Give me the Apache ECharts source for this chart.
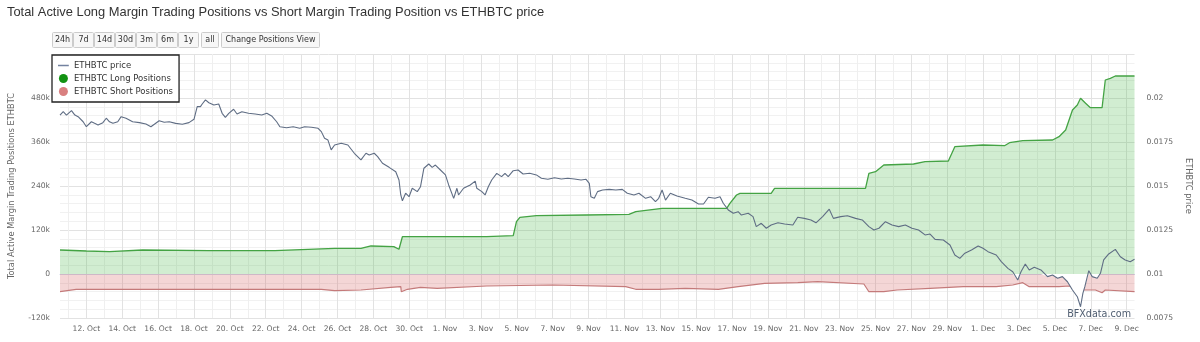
<!DOCTYPE html>
<html><head><meta charset="utf-8">
<script src="https://cdn.jsdelivr.net/npm/echarts@6/dist/echarts.min.js"></script>
<style>html,body{margin:0;padding:0;background:#fff}#c{width:1200px;height:342px}</style>
</head><body><div id="c"></div>
<script>
// x values are days counted from 12 Oct 2016 00:00 UTC
const startDateUTC = Date.UTC(2016, 9, 12);
const monthNames = ['Jan','Feb','Mar','Apr','May','Jun','Jul','Aug','Sep','Oct','Nov','Dec'];
const xMinDay = -1.47;
const xMaxDay = 58.44;
const xLabelDays = [0,2,4,6,8,10,12,14,16,18,20,22,24,26,28,30,32,34,36,38,40,42,44,46,48,50,52,54,56,58];
const xMinorDays = [-1,1,3,5,7,9,11,13,15,17,19,21,23,25,27,29,31,33,35,37,39,41,43,45,47,49,51,53,55,57];
const priceThreshold = 0.01;

const leftAxisTitle = 'Total Active Margin Trading Positions ETHBTC';
const rightAxisTitle = 'ETHBTC price';
const chartTitle = 'Total Active Long Margin Trading Positions vs Short Margin Trading Position vs ETHBTC price';
const rangeButtons = ['24h','7d','14d','30d','3m','6m','1y','all','Change Positions View'];
const seriesNames = ['ETHBTC price','ETHBTC Long Positions','ETHBTC Short Positions'];

const priceData = [
[-1.47,0.01903],[-1.29,0.01922],[-1.11,0.01903],[-0.83,0.01928],[-0.64,0.01903],[-0.46,0.01894],[-0.18,0.01865],
[0,0.01837],[0.28,0.01865],[0.46,0.01856],[0.65,0.01847],[0.92,0.0186],[1.11,0.01885],[1.29,0.01865],[1.48,0.01856],
[1.75,0.01865],[1.94,0.01894],[2.21,0.01885],[2.58,0.01865],[2.96,0.0186],[3.32,0.01852],[3.6,0.01837],[3.79,0.01851],
[4.06,0.01871],[4.34,0.01862],[4.62,0.01865],[4.98,0.01856],[5.35,0.01851],[5.72,0.0186],[6.0,0.01879],[6.18,0.01951],
[6.36,0.01951],[6.46,0.01966],[6.64,0.01989],[6.83,0.01973],[7.11,0.0196],[7.38,0.01966],[7.57,0.01913],[7.75,0.0189],
[7.94,0.01913],[8.21,0.01936],[8.4,0.01909],[8.67,0.01922],[9.04,0.01913],[9.41,0.01909],[9.78,0.01903],[10.06,0.01913],
[10.33,0.01898],[10.61,0.01865],[10.79,0.01837],[11.16,0.01831],[11.53,0.01837],[11.9,0.01828],[12.17,0.01837],
[12.55,0.01834],[12.92,0.01828],[13.1,0.01809],[13.28,0.01771],[13.47,0.01761],[13.65,0.01705],[13.84,0.01733],
[14.21,0.01743],[14.58,0.01733],[14.94,0.01686],[15.31,0.01648],[15.59,0.01686],[15.77,0.01676],[16.05,0.01686],
[16.24,0.01667],[16.51,0.01629],[16.88,0.01606],[17.25,0.01581],[17.43,0.01534],[17.53,0.01449],[17.62,0.01416],
[17.8,0.01459],[17.99,0.01439],[18.17,0.01487],[18.45,0.01468],[18.63,0.01496],[18.82,0.01601],[19.09,0.01625],
[19.28,0.01606],[19.46,0.01619],[19.74,0.01591],[20.02,0.01563],[20.2,0.01506],[20.48,0.0143],[20.66,0.01487],
[20.75,0.01449],[21.03,0.01487],[21.4,0.01506],[21.68,0.01528],[21.77,0.01487],[22.05,0.01468],[22.23,0.01449],
[22.41,0.01496],[22.6,0.01534],[22.88,0.01572],[23.15,0.01553],[23.34,0.01572],[23.52,0.01553],[23.8,0.01587],
[24.07,0.01591],[24.35,0.01568],[24.72,0.01572],[25.09,0.01563],[25.37,0.01544],[25.73,0.01538],[26.1,0.01547],
[26.48,0.0154],[26.84,0.01544],[27.21,0.0154],[27.58,0.01534],[27.86,0.01538],[28.04,0.01515],[28.13,0.01439],
[28.32,0.0143],[28.5,0.01468],[28.78,0.01477],[29.15,0.01481],[29.52,0.01477],[29.88,0.01481],[30.16,0.01459],
[30.53,0.01449],[30.81,0.01459],[31.18,0.0143],[31.46,0.01439],[31.73,0.01411],[31.91,0.0143],[32.1,0.01477],
[32.29,0.0142],[32.56,0.01459],[32.93,0.01443],[33.39,0.0143],[33.76,0.0142],[34.13,0.01398],[34.41,0.01398],
[34.68,0.01436],[35.05,0.0143],[35.33,0.01439],[35.51,0.01402],[35.79,0.01364],[36.07,0.01345],[36.34,0.01354],
[36.52,0.01335],[36.9,0.01345],[37.17,0.01326],[37.35,0.01269],[37.63,0.01288],[37.91,0.0126],[38.18,0.01278],
[38.56,0.01291],[38.93,0.01284],[39.39,0.01278],[39.66,0.01322],[40.03,0.01316],[40.4,0.01307],[40.68,0.01291],
[41.05,0.01326],[41.42,0.01368],[41.65,0.01316],[42.06,0.01326],[42.43,0.01331],[42.89,0.01316],[43.26,0.01307],
[43.63,0.01269],[43.91,0.0125],[44.19,0.0126],[44.55,0.01297],[44.92,0.01278],[45.29,0.01269],[45.66,0.01278],
[46.03,0.0126],[46.4,0.0125],[46.76,0.01222],[47.04,0.01227],[47.32,0.01197],[47.78,0.01193],[48.15,0.01165],
[48.42,0.01108],[48.7,0.01089],[48.98,0.01118],[49.35,0.01136],[49.72,0.01159],[49.99,0.01146],[50.27,0.01127],
[50.73,0.01108],[51.01,0.0107],[51.38,0.01032],[51.65,0.01013],[51.93,0.00966],[52.11,0.01013],[52.35,0.01057],
[52.57,0.01023],[52.85,0.01038],[53.22,0.01023],[53.59,0.00985],[53.87,0.00994],[54.15,0.00976],[54.42,0.00985],
[54.7,0.00956],[54.98,0.00909],[55.25,0.00871],[55.43,0.00814],[55.56,0.0089],[55.67,0.00928],[55.89,0.01019],
[56.08,0.00985],[56.36,0.00976],[56.54,0.01004],[56.72,0.0108],[57.0,0.01114],[57.37,0.0114],[57.65,0.01098],
[57.92,0.0108],[58.2,0.0107],[58.44,0.01084]
];

const longData = [
[-1.47,65500],[0,62700],[1.29,60800],[3.14,65500],[6.83,63500],[10.51,63500],[13.84,70100],[15.31,70100],
[15.87,76400],[17.14,74500],[17.43,67400],[17.62,101700],[19.74,101700],[22.32,101700],[23.8,104500],
[23.98,142600],[24.17,154600],[25.09,159000],[27.86,160900],[30.25,162800],[30.63,169900],[32.1,179200],
[35.7,179200],[35.88,192800],[36.25,215500],[36.44,220100],[38.18,220100],[38.37,233700],[39.66,233700],
[43.44,233700],[43.63,274600],[44.0,279000],[44.46,297300],[46.12,300000],[46.76,306300],[48.06,308200],
[48.42,347200],[49.99,351800],[51.19,349900],[51.47,358100],[52.21,363500],[53.87,365500],[54.23,374500],
[54.6,392700],[54.98,447300],[55.25,460900],[55.43,479200],[55.71,465500],[55.98,453500],[56.63,453500],
[56.81,529100],[57.09,533700],[57.37,540000],[58.44,540000]
];

const shortData = [
[-1.47,-48300],[-0.57,-41700],[3.14,-41700],[10.51,-41700],[13.1,-41700],[13.84,-45500],[15.31,-43600],
[16.97,-36300],[17.53,-34600],[17.56,-48300],[17.9,-41700],[18.63,-36300],[19.56,-39000],[22.32,-32700],
[26.01,-30000],[30.07,-34600],[30.63,-41700],[31.91,-41700],[33.39,-39000],[35.24,-41700],[36.34,-34600],
[37.82,-25400],[39.66,-23700],[40.77,-21000],[43.35,-27300],[43.63,-48300],[44.46,-48300],[45.2,-43600],
[47.04,-39000],[48.89,-34600],[50.73,-34600],[51.65,-30000],[52.21,-23700],[52.57,-34600],[54.23,-34600],
[54.78,-32700],[55.52,-43600],[56.26,-43600],[56.63,-51000],[56.81,-43600],[58.44,-48300]
];

function dayLabel(v) {
  const d = new Date(startDateUTC + v * 86400000);
  return d.getUTCDate() + '. ' + monthNames[d.getUTCMonth()];
}

// white fill between the price line and its threshold where the price dips below it
const priceBelowThreshold = priceData.map(p => [p[0], Math.min(p[1], priceThreshold)]);

const chart = echarts.init(document.getElementById('c'), null, {renderer: 'canvas'});
const FONT = 'DejaVu Sans';

// range selector buttons (graphic)
const btnBoxes = [[52,73],[73,94],[94,115],[115,136],[136,157],[157,178],[178,199],[201,219],[221,320]];
const graphics = [];
rangeButtons.forEach((t, i) => {
  const [x0, x1] = btnBoxes[i];
  graphics.push({type:'rect', shape:{x:x0+0.5, y:32.5, width:x1-x0-1, height:15, r:1},
    style:{fill:'#f7f7f7', stroke:'#cccccc', lineWidth:1}, z:10});
  graphics.push({type:'text', x:(x0+x1)/2, y:40, style:{text:t, fill:'#333', font:'8px "'+FONT+'"',
    align:'center', verticalAlign:'middle'}, z:11});
});
graphics.push({type:'text', right: 69, top: 309, style:{text:'BFXdata.com', fill:'#4f5d70',
  font:'9.6px "'+FONT+'"'}, z:20});

// a line-shaped legend icon (tiny corner dots keep the path box square)
const lineIcon = 'path://M0,0h0.01v0.01h-0.01z M0,4.2h12v1.6H0z M11.99,9.99h0.01v0.01h-0.01z';

chart.setOption({
  animation: false,
  backgroundColor: '#fff',
  title: {text: chartTitle, left: 2, top: 1,
    textStyle: {fontFamily: 'Liberation Sans', fontSize: 12.9, fontWeight: 'normal', color: '#333'}},
  graphic: graphics,
  legend: {
    orient: 'vertical', left: 52, top: 55,
    padding: [6, 6, 6, 6], itemGap: 4, itemWidth: 11, itemHeight: 9,
    borderColor: '#222', borderWidth: 1.3, backgroundColor: '#fff',
    textStyle: {fontFamily: FONT, fontSize: 8.5, color: '#333'},
    data: [
      {name: seriesNames[0], icon: lineIcon, itemStyle: {color: '#7382a0'}},
      {name: seriesNames[1], icon: 'circle'},
      {name: seriesNames[2], icon: 'circle'}
    ],
    z: 20
  },
  grid: {left: 57, right: 60.5, top: 54, bottom: 24, containLabel: false},
  xAxis: [{
    type: 'value', min: xMinDay, max: xMaxDay,
    axisLine: {show: true, lineStyle: {color: '#ccd6eb', width: 1}},
    axisTick: {show: false, customValues: xLabelDays},
    axisLabel: {customValues: xLabelDays, formatter: dayLabel, color: '#666',
      fontFamily: FONT, fontSize: 7.6, margin: 7},
    splitLine: {show: true, lineStyle: {color: '#e2e2e2', width: 1}}
  }, {
    type: 'value', min: xMinDay, max: xMaxDay, position: 'top',
    axisLine: {show: false}, axisTick: {show: false, customValues: xMinorDays},
    axisLabel: {show: false, customValues: xMinorDays},
    splitLine: {show: true, lineStyle: {color: '#efefef', width: 1}}
  }],
  yAxis: [{
    type: 'value', min: -120000, max: 600000, interval: 120000,
    name: leftAxisTitle, nameLocation: 'middle', nameRotate: 90, nameGap: 44,
    nameTextStyle: {fontFamily: FONT, fontSize: 8.3, color: '#666'},
    axisLine: {show: false}, axisTick: {show: false},
    axisLabel: {color: '#666', fontFamily: FONT, fontSize: 7.6, margin: 10,
      padding: [0, 0, 8, 0],
      formatter: v => v >= 600000 ? '' : (v === 0 ? '0' : (v / 1000) + 'k')},
    splitLine: {show: true, lineStyle: {color: '#e2e2e2'}},
    minorTick: {show: false, splitNumber: 5},
    minorSplitLine: {show: true, lineStyle: {color: '#f1f1f1'}}
  }, {
    type: 'value', min: 0.0075, max: 0.0225, interval: 0.0025, position: 'right',
    name: rightAxisTitle, nameLocation: 'middle', nameRotate: -90, nameGap: 48,
    nameTextStyle: {fontFamily: FONT, fontSize: 8.3, color: '#666'},
    axisLine: {show: false}, axisTick: {show: false},
    axisLabel: {color: '#666', fontFamily: FONT, fontSize: 7.6, margin: 12,
      padding: [0, 0, 8, 0],
      formatter: v => v > 0.021 ? '' : String(+v.toFixed(4))},
    splitLine: {show: false}
  }],
  series: [{
    name: seriesNames[1], type: 'line', xAxisIndex: 0, yAxisIndex: 0, data: longData,
    symbol: 'none', showSymbol: false, z: 2,
    itemStyle: {color: '#139213'},
    lineStyle: {color: '#44a344', width: 1.3},
    areaStyle: {color: 'rgba(70,185,70,0.36)', origin: 0}
  }, {
    name: seriesNames[2], type: 'line', xAxisIndex: 0, yAxisIndex: 0, data: shortData,
    symbol: 'none', showSymbol: false, z: 2,
    itemStyle: {color: '#d98080'},
    lineStyle: {color: '#c47a7a', width: 1.2},
    areaStyle: {color: 'rgba(215,100,100,0.38)', origin: 0}
  }, {
    name: 'priceDipFill', type: 'line', xAxisIndex: 0, yAxisIndex: 1, data: priceBelowThreshold,
    symbol: 'none', showSymbol: false, z: 3, silent: true,
    lineStyle: {width: 0, opacity: 0},
    areaStyle: {color: '#ffffff', opacity: 1, origin: priceThreshold}
  }, {
    name: seriesNames[0], type: 'line', xAxisIndex: 0, yAxisIndex: 1, data: priceData,
    symbol: 'none', showSymbol: false, z: 4,
    itemStyle: {color: '#7382a0'},
    lineStyle: {color: '#5f6d84', width: 1.1}
  }]
});
</script>
</body></html>
